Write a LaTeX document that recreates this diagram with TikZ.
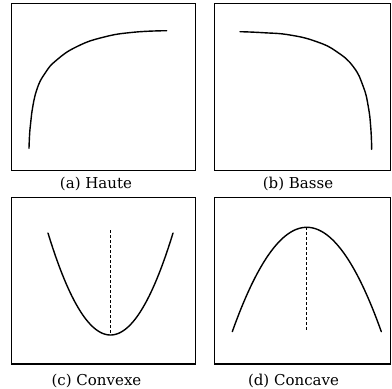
\documentclass[tikz,border=0pt]{standalone}
\usepackage{fontspec}
\setmainfont{DejaVu Serif}
\begin{document}
\begin{tikzpicture}[x=1pt,y=-1pt,
  frame/.style={draw=black,line width=1.2pt},
  curve/.style={line width=1.4pt,line cap=round},
  axisline/.style={line width=1.1pt,dash pattern=on 3pt off 2pt},
  captext/.style={font=\fontsize{15}{18}\selectfont,anchor=base,inner sep=0pt}]
\useasboundingbox (0,0) rectangle (392,389);
% frames
\draw[frame] (11.3,3.5) rectangle (195.3,170.7);
\draw[frame] (214.7,3.5) rectangle (390.5,170.7);
\draw[frame] (11.3,197.5) rectangle (195.3,364);
\draw[frame] (214.7,197.5) rectangle (390.5,364);
% (a) Haute
\draw[curve] plot[smooth,tension=0.8] coordinates {(29,148.3) (29.9,130) (31.7,113.3) (36.7,90) (45,73.3) (56.7,60) (76.7,46.7) (103,37.3) (133,32.3) (166.7,30.7)};
% (b) Basse
\draw[curve] plot[smooth,tension=0.8] coordinates {(240,31.7) (263.3,32.7) (290,35) (316.7,41.7) (336.7,51.7) (353.3,66.7) (363.3,86.7) (368.3,106.7) (370.8,128) (371.7,149.3)};
% (c) Convexe
\draw[curve] plot[domain=-62.5:62.5,samples=80] ({110.5+\x},{335-0.0261*\x*\x});
\draw[axisline] (110.5,230) -- (110.5,335);
% (d) Concave
\draw[curve] plot[domain=-74.5:74.5,samples=80] ({306.8+\x},{227.3+0.0188*\x*\x});
\draw[axisline] (306.8,227.3) -- (306.8,332);
% captions
\node[captext] (capa) at (96,188.5) {(a) Haute};
\node[captext] (capb) at (298,188.5) {(b) Basse};
\node[captext] (capc) at (96.5,385) {(c) Convexe};
\node[captext] (capd) at (293.5,385) {(d) Concave};
\end{tikzpicture}
\end{document}
